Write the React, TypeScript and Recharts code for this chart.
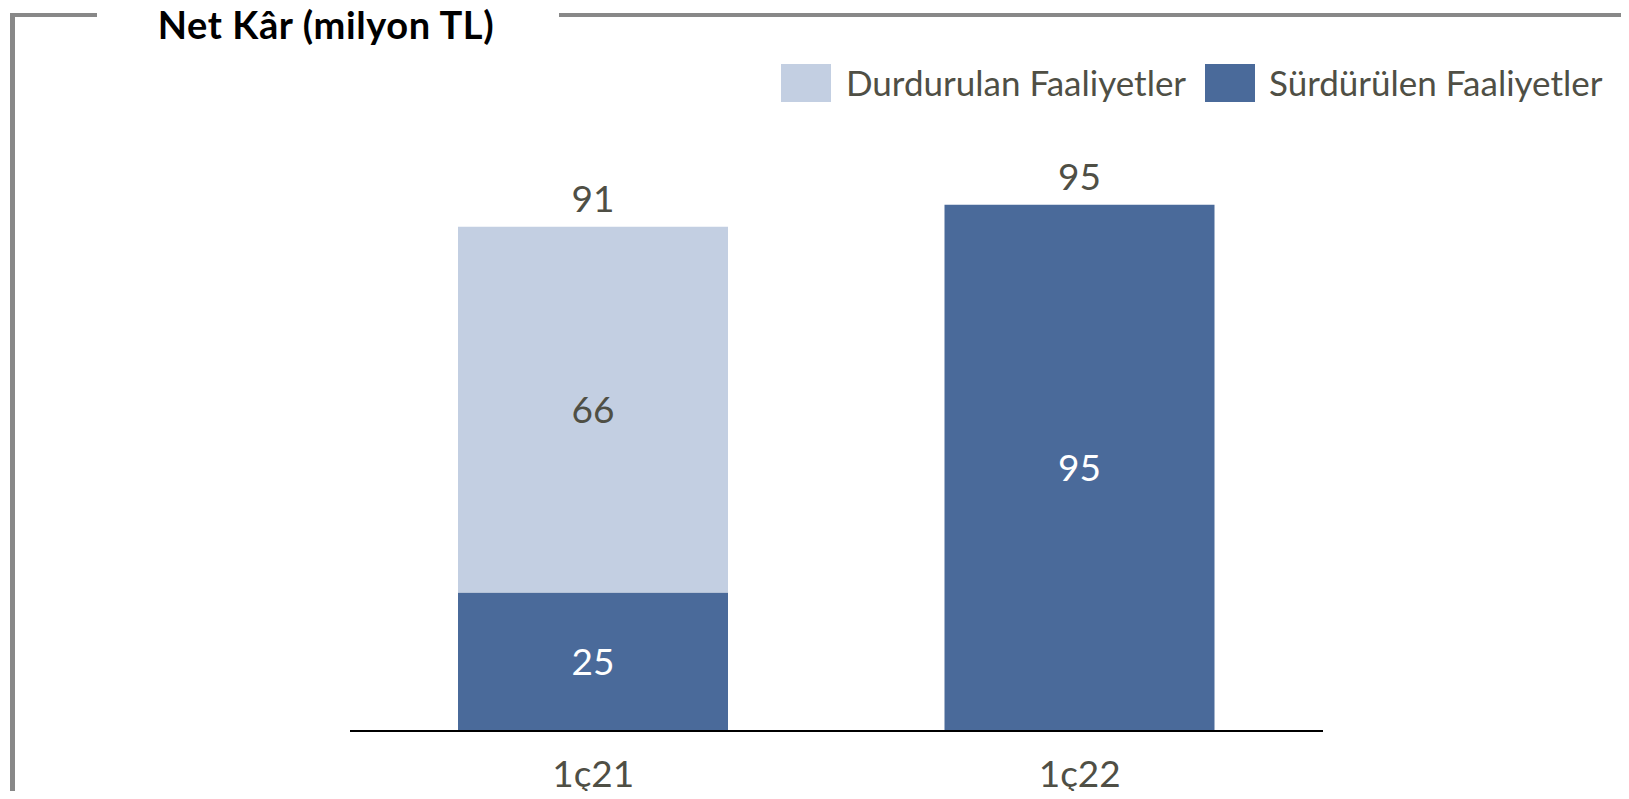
import React from 'react';
import { BarChart, Bar, XAxis, YAxis, LabelList, Customized } from 'recharts';

const categories = ['1ç21', '1ç22'];
const surdurulen = [25, 95];
const durdurulan = [66, 0];
const totals = [91, 95];
const seriesNames = ['Durdurulan Faaliyetler', 'Sürdürülen Faaliyetler'];
const title = 'Net Kâr (milyon TL)';

const DARK = '#4A6A9A';
const LIGHT = '#C3CFE2';
const TEXT = '#4F4F45';
const BORDER = '#888888';
const FONT = 'Lato, sans-serif';
const FS = 37;
const LEGEND_FS = 35;

const data = categories.map((c, i) => ({
  name: c,
  surdurulen: surdurulen[i],
  durdurulan: durdurulan[i],
  total: totals[i],
}));

// total label drawn above whichever segment is on top of the stack
const makeTop = (isUpper: boolean) => (props: any) => {
  const { x, y, width, value, index } = props;
  const hasUpper = durdurulan[index] > 0;
  if (hasUpper !== isUpper) return null;
  return (
    <text x={x + width / 2} y={y - 15} textAnchor="middle" fill={TEXT} fontSize={FS} fontFamily={FONT}>
      {value}
    </text>
  );
};

const makeInside = (color: string) => (props: any) => {
  const { x, y, width, height, value } = props;
  if (!value) return null;
  return (
    <text x={x + width / 2} y={y + height / 2} dy="0.36em" textAnchor="middle" fill={color} fontSize={FS} fontFamily={FONT}>
      {value}
    </text>
  );
};

const Tick = (props: any) => {
  const { x, y, payload } = props;
  return (
    <text x={x} y={y} dy={48} textAnchor="middle" fill={TEXT} fontSize={FS} fontFamily={FONT}>
      {payload.value}
    </text>
  );
};

const LegendBox = () => {
  const items = [
    { label: seriesNames[0], color: LIGHT, left: 781, textLeft: 846 },
    { label: seriesNames[1], color: DARK, left: 1205, textLeft: 1269 },
  ];
  return (
    <div style={{ position: 'absolute', left: 0, top: 0, width: 1629, height: 120, pointerEvents: 'none' }}>
      {items.map((it) => (
        <React.Fragment key={it.label}>
          <div style={{ position: 'absolute', left: it.left, top: 64, width: 50, height: 38, background: it.color }} />
          <div
            style={{
              position: 'absolute',
              left: it.textLeft,
              top: 63,
              height: 38,
              lineHeight: '38px',
              fontSize: LEGEND_FS,
              fontFamily: FONT,
              color: TEXT,
              whiteSpace: 'nowrap',
            }}
          >
            {it.label}
          </div>
        </React.Fragment>
      ))}
    </div>
  );
};

const Frame = () => (
  <g>
    <line x1={12.5} y1={15} x2={12.5} y2={799} stroke={BORDER} strokeWidth={5} />
    <line x1={10} y1={15} x2={97} y2={15} stroke={BORDER} strokeWidth={4} />
    <line x1={559} y1={15} x2={1629} y2={15} stroke={BORDER} strokeWidth={4} />
    <text
      x={326}
      y={39}
      textAnchor="middle"
      fill="#000000"
      fontSize={38}
      letterSpacing={0.6}
      fontWeight={700}
      fontFamily={FONT}
    >
      {title}
    </text>
  </g>
);

export default function App() {
  return (
    <div style={{ margin: -8, position: 'relative', width: 1629, height: 799, background: '#ffffff' }}>
      <BarChart
        width={1629}
        height={799}
        data={data}
        margin={{ top: 177, right: 306, left: 350, bottom: 28 }}
        barSize={270}
      >
        <XAxis
          dataKey="name"
          height={40}
          tickLine={false}
          axisLine={{ stroke: '#000000', strokeWidth: 2 }}
          tick={<Tick />}
          interval={0}
        />
        <YAxis hide domain={[0, 100]} />
        <Bar dataKey="surdurulen" stackId="a" fill={DARK} isAnimationActive={false}>
          <LabelList dataKey="surdurulen" content={makeInside('#FFFFFF')} />
          <LabelList dataKey="total" content={makeTop(false)} />
        </Bar>
        <Bar dataKey="durdurulan" stackId="a" fill={LIGHT} isAnimationActive={false}>
          <LabelList dataKey="durdurulan" content={makeInside(TEXT)} />
          <LabelList dataKey="total" content={makeTop(true)} />
        </Bar>
        <Customized component={Frame} />
      </BarChart>
      <LegendBox />
    </div>
  );
}
